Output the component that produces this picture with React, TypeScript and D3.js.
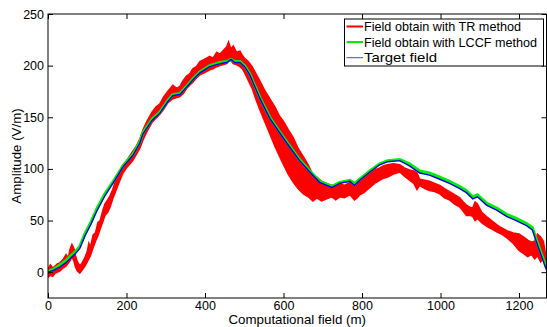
import React, { useEffect, useRef } from "react";
import * as d3 from "d3";

// Target field / LCCF field (x in m, amplitude in V/m)
const fieldX = [0, 15, 30, 45, 56, 70, 81, 94, 110, 124, 145, 170, 191, 216, 234, 242, 265, 285, 305, 318, 336, 353, 369, 387, 412, 438, 455, 466, 476, 489, 501, 514, 540, 565, 590, 616, 641, 667, 692, 723, 743, 769, 781, 794, 820, 845, 865, 896, 921, 947, 972, 998, 1023, 1049, 1066, 1082, 1094, 1117, 1143, 1168, 1193, 1219, 1234, 1252, 1270];
const targetY = [0, 2, 5, 9, 13, 18, 23, 35, 47, 59, 74, 89, 102, 113, 125, 134, 147, 154, 165, 171, 172, 179, 186, 193, 199, 202, 203, 206, 203, 203, 199, 191, 168, 149, 135, 121, 108, 97, 87, 82, 86, 88, 84, 89, 97, 104, 107, 108, 103, 96, 94, 90, 86, 81, 77, 71, 73, 65, 60, 54, 50, 45, 41, 21, 2];
const lccfY = [1, 3, 7, 11, 15, 20, 25, 37, 49, 61, 76, 90, 103, 114, 126, 135, 148, 155, 166, 172, 173, 180, 187, 194, 200, 203, 204, 206, 204, 204, 200, 192, 169, 150, 136, 122, 109, 98, 88, 83, 87, 89, 86, 90, 98, 105, 108, 109, 105, 98, 96, 92, 88, 83, 79, 73, 75, 67, 62, 56, 52, 47, 43, 23, 4];

// TR method field: noisy band, read as lower / upper envelope
const trX = [0, 6, 12, 18, 24, 30, 38, 46, 52, 56, 61, 66, 70, 75, 81, 87, 94, 100, 104, 108, 115, 121, 127, 133, 140, 145, 152, 158, 165, 170, 180, 191, 200, 216, 225, 234, 242, 252, 265, 275, 285, 295, 305, 318, 328, 336, 345, 353, 361, 369, 378, 387, 398, 412, 420, 430, 438, 447, 455, 460, 466, 472, 480, 489, 495, 501, 510, 520, 530, 540, 552, 565, 578, 590, 600, 612, 625, 637, 650, 663, 675, 685, 697, 710, 723, 733, 743, 755, 769, 781, 788, 794, 805, 820, 832, 845, 855, 865, 880, 896, 908, 921, 932, 940, 947, 960, 972, 985, 998, 1010, 1023, 1036, 1049, 1058, 1066, 1075, 1082, 1088, 1094, 1105, 1120, 1130, 1143, 1155, 1170, 1185, 1200, 1212, 1222, 1232, 1240, 1247, 1255, 1262, 1270];
const trLow = [-5, -3, -4, -1, 0, 1, 4, 6, 9, 11, 15, 11, 5, 1, -1, 2, 6, 10, 13, 16, 24, 30, 35, 42, 49, 55, 58, 63, 71, 76, 86, 96, 101, 108, 114, 120, 128, 136, 145, 149, 153, 158, 164, 168, 169, 170, 173, 178, 181, 184, 188, 191, 193, 196, 197, 199, 200, 201, 202, 204, 205, 202, 201, 199, 197, 193, 186, 178, 167, 157, 146, 134, 122, 112, 104, 95, 87, 81, 76, 73, 69, 72, 69, 71, 73, 70, 73, 72, 75, 70, 72, 75, 77, 82, 86, 89, 91, 92, 95, 97, 93, 89, 86, 80, 84, 81, 79, 78, 76, 72, 70, 66, 63, 59, 55, 55, 54, 50, 52, 48, 44, 42, 39, 37, 33, 28, 21, 18, 15, 17, 13, 16, 10, 13, 4];
const trHigh = [3, 7, 4, 6, 8, 9, 12, 17, 14, 22, 27, 23, 16, 10, 6, 9, 14, 20, 28, 24, 36, 38, 48, 50, 60, 66, 70, 74, 80, 86, 95, 104, 108, 117, 122, 129, 138, 146, 155, 160, 163, 170, 175, 181, 178, 180, 186, 190, 192, 197, 199, 204, 206, 209, 207, 213, 211, 215, 218, 223, 216, 219, 213, 214, 210, 207, 204, 199, 192, 185, 176, 168, 160, 151, 146, 138, 130, 120, 112, 104, 94, 92, 88, 86, 84, 85, 86, 84, 87, 82, 85, 88, 91, 97, 99, 101, 103, 104, 105, 104, 101, 99, 98, 96, 90, 89, 88, 86, 84, 81, 78, 75, 72, 68, 65, 63, 62, 68, 66, 58, 53, 50, 46, 43, 40, 38, 37, 34, 31, 29, 30, 37, 34, 30, 12];

const xTicks = [0, 200, 400, 600, 800, 1000, 1200];
const yTicks = [0, 50, 100, 150, 200, 250];
const legendLabels = ["Field obtain with TR method", "Field obtain with LCCF method", "Target field"];
const legendColors = ["#ff0000", "#00e600", "#4444ff"];
const legendTextWidths = [157, 173, 73];

const FONT = "Arial, 'Liberation Sans', Helvetica, sans-serif";

export default function App() {
  const ref = useRef<SVGSVGElement | null>(null);

  useEffect(() => {
    const svg = d3.select(ref.current);
    svg.selectAll("*").remove();

    const L = 48, R = 546.5, T = 14, B = 298;
    const x = d3.scaleLinear().domain([0, 1270]).range([L, R]);
    const y = d3.scaleLinear().domain([-25, 250]).range([B, T]);

    svg.append("rect").attr("width", 547).attr("height", 327).attr("fill", "#fff");

    svg.append("defs").append("clipPath").attr("id", "clip")
      .append("rect").attr("x", L).attr("y", T).attr("width", R - L).attr("height", B - T);

    const g = svg.append("g").attr("clip-path", "url(#clip)");

    const trData = trX.map((v, i) => ({ x: v, lo: trLow[i], hi: trHigh[i] }));
    const area = d3.area<any>().x(d => x(d.x)).y0(d => y(d.lo)).y1(d => y(d.hi)).curve(d3.curveLinear);
    g.append("path").datum(trData).attr("d", area).attr("fill", "#ff0000")
      .attr("stroke", "#ff0000").attr("stroke-width", 1.5).attr("stroke-linejoin", "miter");

    const line = d3.line<number>().x((_, i) => x(fieldX[i]));
    g.append("path").attr("d", line.y(d => y(d))(lccfY)).attr("fill", "none")
      .attr("stroke", "#00f000").attr("stroke-width", 3);
    g.append("path").attr("d", line.y(d => y(d))(targetY)).attr("fill", "none")
      .attr("stroke", "#0000ee").attr("stroke-width", 1.4);

    const axisStyle = (sel: any) => {
      sel.select(".domain").remove();
      sel.selectAll("line").attr("stroke", "#000");
      sel.selectAll("text").attr("font-family", FONT).attr("font-size", 12.5).attr("fill", "#000");
    };

    svg.append("g").attr("transform", `translate(0,${B})`)
      .call(d3.axisBottom(x).tickValues(xTicks).tickFormat(d3.format("d")).tickSizeInner(-5).tickSizeOuter(0).tickPadding(3))
      .call(axisStyle);
    svg.append("g").attr("transform", `translate(0,${T})`)
      .call(d3.axisTop(x).tickValues(xTicks).tickFormat(() => "").tickSizeInner(-5).tickSizeOuter(0))
      .call(axisStyle);
    svg.append("g").attr("transform", `translate(${L},0)`)
      .call(d3.axisLeft(y).tickValues(yTicks).tickFormat(d3.format("d")).tickSizeInner(-5).tickSizeOuter(0).tickPadding(4))
      .call(axisStyle);
    svg.append("g").attr("transform", `translate(${R},0)`)
      .call(d3.axisRight(y).tickValues(yTicks).tickFormat(() => "").tickSizeInner(-5).tickSizeOuter(0))
      .call(axisStyle);

    svg.append("rect").attr("x", L).attr("y", T).attr("width", R - L).attr("height", B - T)
      .attr("fill", "none").attr("stroke", "#000").attr("stroke-width", 1);

    svg.append("text").attr("x", (L + R) / 2).attr("y", 324).attr("text-anchor", "middle")
      .attr("font-family", FONT).attr("font-size", 13.3).text("Computational field (m)");
    svg.append("text").attr("transform", `translate(21,${(T + B) / 2}) rotate(-90)`).attr("text-anchor", "middle")
      .attr("font-family", FONT).attr("font-size", 13.3).text("Amplitude (V/m)");

    const lg = svg.append("g");
    lg.append("rect").attr("x", 344.5).attr("y", 19).attr("width", 199).attr("height", 47)
      .attr("fill", "#fff").attr("stroke", "#000").attr("stroke-width", 1);
    legendLabels.forEach((lab, i) => {
      const yy = 26.5 + i * 15.6;
      lg.append("line").attr("x1", 346.5).attr("x2", 363).attr("y1", yy).attr("y2", yy)
        .attr("stroke", legendColors[i]).attr("stroke-width", i === 2 ? 1 : 2);
      lg.append("text").attr("x", 364).attr("y", yy).attr("dy", "0.35em")
        .attr("font-family", FONT).attr("font-size", 13.2)
        .attr("textLength", legendTextWidths[i]).attr("lengthAdjust", "spacingAndGlyphs").text(lab);
    });
  }, []);

  return (
    <svg ref={ref} width={547} height={327} style={{ position: "absolute", left: 0, top: 0, display: "block" }} />
  );
}
